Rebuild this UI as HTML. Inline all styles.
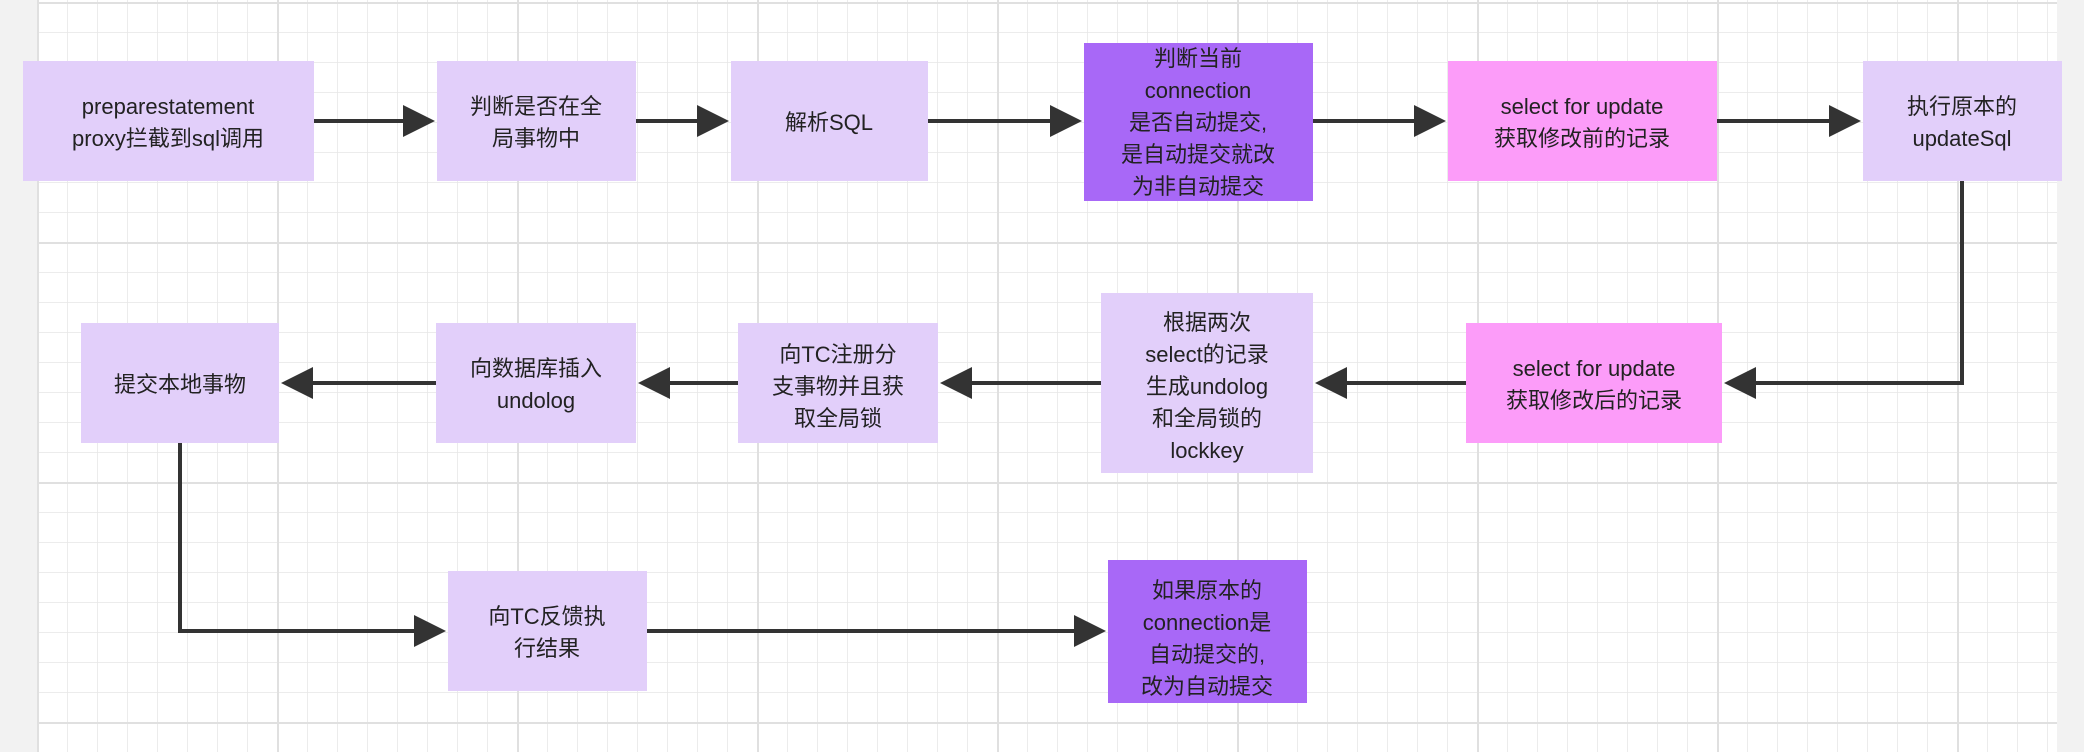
<!DOCTYPE html>
<html><head><meta charset="utf-8"><style>
html,body{margin:0;padding:0;background:#fff}
svg{display:block}
text{font-family:"Liberation Sans","Noto Sans CJK SC",sans-serif;font-size:22px;fill:#222;text-anchor:middle}
</style></head><body>
<svg width="2084" height="752" viewBox="0 0 2084 752" xmlns="http://www.w3.org/2000/svg">
<defs>
<pattern id="minor" x="37" y="2" width="30" height="30" patternUnits="userSpaceOnUse">
<path d="M0 0H30M0 0V30" stroke="#e6e6e6" stroke-width="1.5" fill="none"/>
</pattern>
<pattern id="major" x="37" y="2" width="240" height="240" patternUnits="userSpaceOnUse">
<path d="M0 0H240M0 0V240" stroke="#e0e0e0" stroke-width="4" fill="none"/>
</pattern>
<marker id="ah" markerWidth="8" markerHeight="8" refX="7" refY="4" orient="auto" markerUnits="strokeWidth">
<path d="M0,0 L8,4 L0,8 Z" fill="#333"/>
</marker>
</defs>
<rect width="2084" height="752" fill="#fff"/>
<rect x="37" y="0" width="2020" height="752" fill="url(#minor)"/>
<rect x="37" y="0" width="2020" height="752" fill="url(#major)"/>
<rect x="0" y="0" width="37" height="752" fill="#f2f2f2"/>
<rect x="2057" y="0" width="27" height="752" fill="#f2f2f2"/>

<g stroke="#333" stroke-width="4" fill="none" marker-end="url(#ah)">
<path d="M314 121H431"/>
<path d="M636 121H725"/>
<path d="M928 121H1078"/>
<path d="M1313 121H1442"/>
<path d="M1717 121H1857"/>
<path d="M1962 181V383H1728"/>
<path d="M1466 383H1319"/>
<path d="M1101 383H944"/>
<path d="M738 383H642"/>
<path d="M436 383H285"/>
<path d="M180 443V631H442"/>
<path d="M647 631H1102"/>
</g>

<g>
<rect x="23" y="61" width="291" height="120" fill="#e2cffa"/>
<text x="168" y="114">preparestatement</text><text x="168" y="146">proxy拦截到sql调用</text>
<rect x="437" y="61" width="199" height="120" fill="#e2cffa"/>
<text x="536" y="114">判断是否在全</text><text x="536" y="146">局事物中</text>
<rect x="731" y="61" width="197" height="120" fill="#e2cffa"/>
<text x="829" y="130">解析SQL</text>
<rect x="1084" y="43" width="229" height="158" fill="#a868f7"/>
<text x="1198" y="66">判断当前</text><text x="1198" y="98">connection</text><text x="1198" y="130">是否自动提交,</text><text x="1198" y="162">是自动提交就改</text><text x="1198" y="194">为非自动提交</text>
<rect x="1448" y="61" width="269" height="120" fill="#fc9cf9"/>
<text x="1582" y="114">select for update</text><text x="1582" y="146">获取修改前的记录</text>
<rect x="1863" y="61" width="199" height="120" fill="#e2cffa"/>
<text x="1962" y="114">执行原本的</text><text x="1962" y="146">updateSql</text>

<rect x="1466" y="323" width="256" height="120" fill="#fc9cf9"/>
<text x="1594" y="376">select for update</text><text x="1594" y="408">获取修改后的记录</text>
<rect x="1101" y="293" width="212" height="180" fill="#e2cffa"/>
<text x="1207" y="330">根据两次</text><text x="1207" y="362">select的记录</text><text x="1207" y="394">生成undolog</text><text x="1207" y="426">和全局锁的</text><text x="1207" y="458">lockkey</text>
<rect x="738" y="323" width="200" height="120" fill="#e2cffa"/>
<text x="838" y="362">向TC注册分</text><text x="838" y="394">支事物并且获</text><text x="838" y="426">取全局锁</text>
<rect x="436" y="323" width="200" height="120" fill="#e2cffa"/>
<text x="536" y="376">向数据库插入</text><text x="536" y="408">undolog</text>
<rect x="81" y="323" width="198" height="120" fill="#e2cffa"/>
<text x="180" y="392">提交本地事物</text>

<rect x="448" y="571" width="199" height="120" fill="#e2cffa"/>
<text x="547" y="624">向TC反馈执</text><text x="547" y="656">行结果</text>
<rect x="1108" y="560" width="199" height="143" fill="#a868f7"/>
<text x="1207" y="598">如果原本的</text><text x="1207" y="630">connection是</text><text x="1207" y="662">自动提交的,</text><text x="1207" y="694">改为自动提交</text>
</g>
</svg>
</body></html>
